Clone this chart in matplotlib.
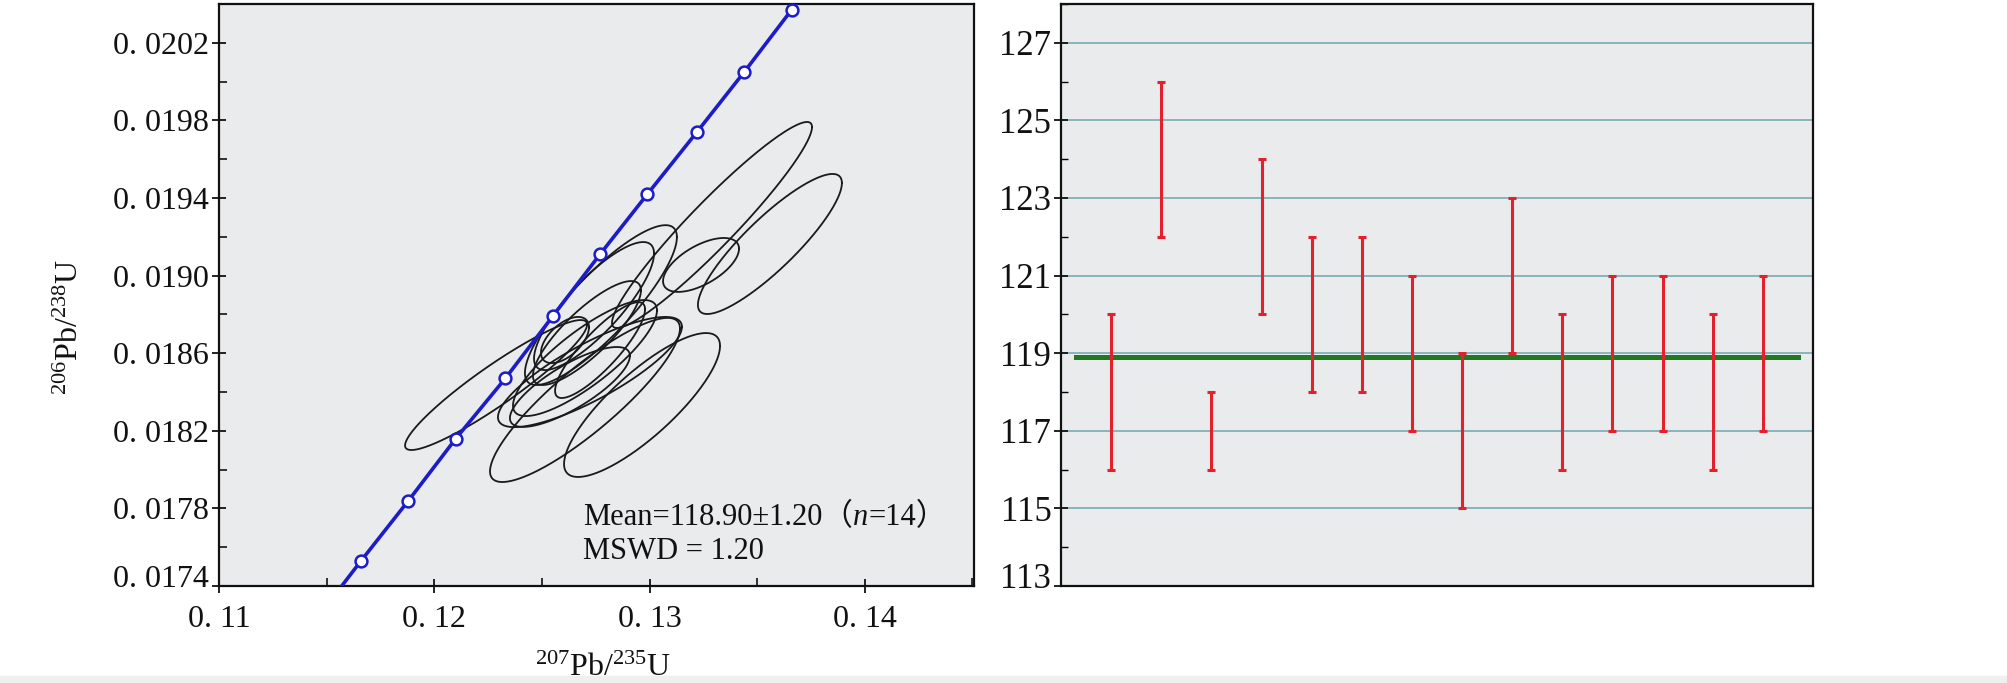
import numpy as np
import matplotlib
matplotlib.use("Agg")
import matplotlib.pyplot as plt
from matplotlib.ticker import FixedLocator, FixedFormatter, MultipleLocator
from matplotlib.offsetbox import TextArea, HPacker, AnnotationBbox
from matplotlib.transforms import ScaledTranslation

plt.rcParams['font.family'] = ['Liberation Serif', 'Noto Sans CJK SC', 'DejaVu Sans']
plt.rcParams['mathtext.fontset'] = 'custom'
plt.rcParams['mathtext.rm'] = 'Liberation Serif'
plt.rcParams['mathtext.it'] = 'Liberation Serif:italic'

# ---------------- data: concordia (left) ----------------
conc_age = [112, 114, 116, 118, 120, 122, 124, 126, 128, 130]
conc_x = [0.1166, 0.1188, 0.1210, 0.1233, 0.1255, 0.1277, 0.1299, 0.1322, 0.1344, 0.1366]
conc_y = [0.01753, 0.01784, 0.01816, 0.01847, 0.01879, 0.01911, 0.01942, 0.01974, 0.02005, 0.02037]
conc_end_x = [0.1157, 0.1368]
conc_end_y = [0.0174, 0.0204]

# error ellipses: centre, half-extent in x / y, correlation
ell_x = [0.13559, 0.13290, 0.12287, 0.12965, 0.12700, 0.12774, 0.12742,
         0.12607, 0.13239, 0.12709, 0.12700, 0.12630, 0.12723, 0.12770]
ell_sx = [0.003344, 0.004645, 0.004227, 0.003623, 0.004412, 0.003530, 0.002787,
          0.001115, 0.001765, 0.002508, 0.003344, 0.002787, 0.004273, 0.002090]
ell_y = [0.019163, 0.019261, 0.018436, 0.018333, 0.018359, 0.018848, 0.018843,
         0.018668, 0.019055, 0.018704, 0.018575, 0.018426, 0.018503, 0.018616]
ell_sy = [0.000361, 0.000531, 0.000335, 0.000371, 0.000423, 0.000412, 0.000330,
          0.000119, 0.000139, 0.000268, 0.000299, 0.000206, 0.000284, 0.000247]
ell_rho = [0.87, 0.95, 0.93, 0.82, 0.87, 0.85, 0.82,
           0.55, 0.60, 0.82, 0.82, 0.78, 0.82, 0.85]

xticks_left = [0.11, 0.12, 0.13, 0.14]
xtick_labels_left = ['0. 11', '0. 12', '0. 13', '0. 14']
yticks_left = [0.0174, 0.0178, 0.0182, 0.0186, 0.0190, 0.0194, 0.0198, 0.0202]
ytick_labels_left = ['0. 0174', '0. 0178', '0. 0182', '0. 0186', '0. 0190', '0. 0194', '0. 0198', '0. 0202']

# ---------------- data: weighted mean (right) ----------------
spot = list(range(1, 15))
ages = [118, 124, 117, 122, 120, 120, 119, 117, 121, 118, 119, 119, 118, 119]
errs = [2, 2, 1, 2, 2, 2, 2, 2, 2, 2, 2, 2, 2, 2]
mean_age = 118.9
yticks_right = [113, 115, 117, 119, 121, 123, 125, 127]

# ---------------- figure ----------------
fig = plt.figure(figsize=(20.08, 6.83), dpi=100)
bg = '#e9ebec'
ink = '#111111'

ax = fig.add_axes([219/2008, 1-586/683, (974-219)/2008, 582/683])
ax.set_facecolor(bg)
ax.set_xlim(0.11, 0.14507)
ax.set_ylim(0.0174, 0.0204)

t = np.linspace(0, 2*np.pi, 300)
for x0, sx, y0, sy, r in zip(ell_x, ell_sx, ell_y, ell_sy, ell_rho):
    ex = x0 + sx*np.cos(t)
    ey = y0 + sy*(r*np.cos(t) + np.sqrt(1-r*r)*np.sin(t))
    ax.plot(ex, ey, color='#1a1a1a', lw=1.3, zorder=3)

line_x = [conc_end_x[0]] + conc_x + [conc_end_x[1]]
line_y = [conc_end_y[0]] + conc_y + [conc_end_y[1]]
ax.plot(line_x, line_y, color='#1c1cc8', lw=2.6, zorder=4, clip_on=True)
ax.plot(conc_x, conc_y, 'o', ms=8.5, mfc='white', mec='#1c1cc8', mew=1.8, zorder=5, clip_on=False)

ax.xaxis.set_major_locator(FixedLocator(xticks_left))
ax.xaxis.set_major_formatter(FixedFormatter(xtick_labels_left))
ax.xaxis.set_minor_locator(MultipleLocator(0.005))
ax.yaxis.set_major_locator(FixedLocator(yticks_left))
ax.yaxis.set_major_formatter(FixedFormatter(ytick_labels_left))
ax.yaxis.set_minor_locator(MultipleLocator(0.0002))
ax.tick_params(axis='both', which='major', direction='inout', length=10, width=1.3,
               labelsize=23, colors=ink)
ax.tick_params(axis='both', which='minor', direction='in', length=6, width=1.1)
ax.tick_params(axis='y', which='major', pad=2)
ax.tick_params(axis='x', which='major', pad=9)
for s in ax.spines.values():
    s.set_linewidth(1.6)
    s.set_color(ink)

# annotation text
fs_ann = 22
ta1 = TextArea('Mean=118.90\u00b11.20\uff08', textprops=dict(fontsize=fs_ann, color=ink))
ta2 = TextArea('n', textprops=dict(fontsize=fs_ann, style='italic', color=ink))
ta3 = TextArea('=14\uff09', textprops=dict(fontsize=fs_ann, color=ink))
box = HPacker(children=[ta1, ta2, ta3], sep=0, pad=0, align='baseline')
ab = AnnotationBbox(box, (0.482, 0.117), xycoords='axes fraction', box_alignment=(0, 0.5),
                    frameon=False, pad=0)
ax.add_artist(ab)
ax.text(0.482, 0.060, 'MSWD = 1.20', transform=ax.transAxes, fontsize=fs_ann,
        va='center', ha='left', color=ink)

fig.text(70/2008, 1-327/683, r'$^{206}$Pb/$^{238}$U', rotation=90, fontsize=23,
         ha='center', va='center', color=ink)
fig.text(603/2008, 1-668/683, r'$^{207}$Pb/$^{235}$U', fontsize=23,
         ha='center', va='center', color=ink)

# ---------------- right panel ----------------
ax2 = fig.add_axes([1061/2008, 1-586/683, (1813-1061)/2008, 582/683])
ax2.set_facecolor(bg)
ax2.set_xlim(0, 15)
ax2.set_ylim(113, 128)
ax2.yaxis.set_major_locator(FixedLocator(yticks_right))
ax2.yaxis.set_minor_locator(MultipleLocator(1))
ax2.set_xticks([])
ax2.grid(axis='y', which='major', color='#7fb0b8', lw=1.3, zorder=1)
ax2.set_axisbelow(True)
ax2.plot([0.3, 14.7], [mean_age, mean_age], color='#1f7a22', lw=3.6, zorder=3)
ax2.errorbar(spot, ages, yerr=errs, fmt='none', ecolor='#e3202c', elinewidth=2.2,
             capsize=3, capthick=2.2, zorder=4)
ax2.tick_params(axis='y', which='major', direction='inout', length=10, width=1.3,
                labelsize=25, pad=2, colors=ink)
ax2.tick_params(axis='y', which='minor', direction='in', length=5, width=1.0)
for s in ax2.spines.values():
    s.set_linewidth(1.6)
    s.set_color(ink)

# lowest labels sit slightly above their ticks, as in the reference
fig.canvas.draw()
for a in (ax, ax2):
    lab = a.yaxis.get_major_ticks()[0].label1
    lab.set_transform(lab.get_transform() + ScaledTranslation(0, 0.10, fig.dpi_scale_trans))

# light band at the bottom of the image
fig.patches.append(plt.Rectangle((0, 0), 1, 7/683, transform=fig.transFigure,
                                 color='#efefef', zorder=0))

fig.savefig('out.png', dpi=100, facecolor='white')
